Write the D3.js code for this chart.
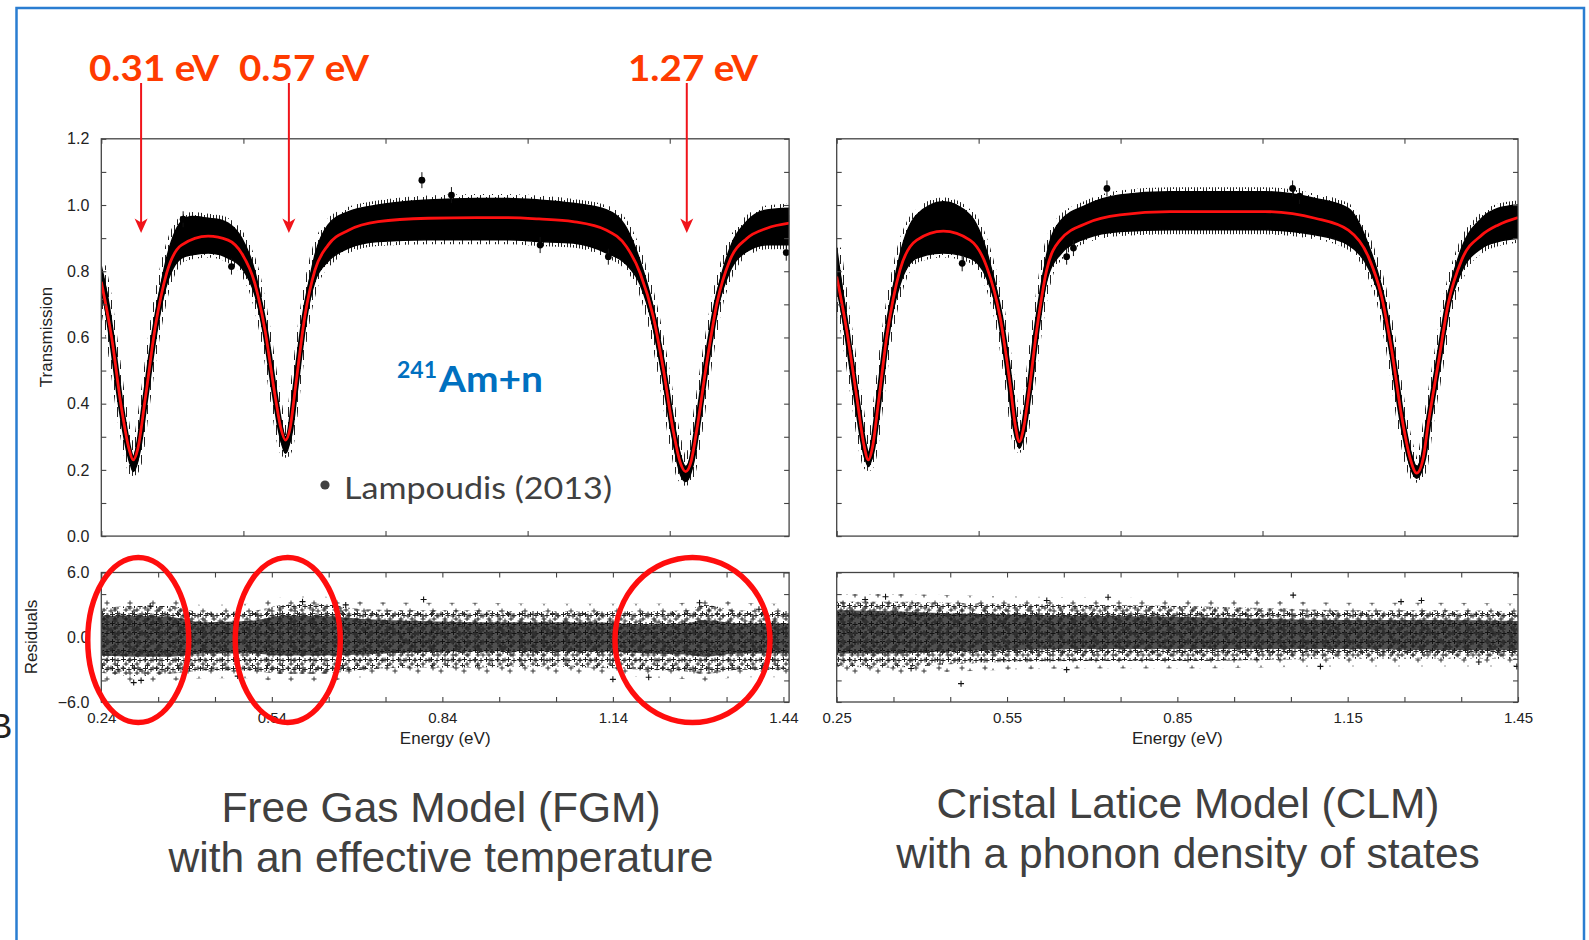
<!DOCTYPE html>
<html lang="en">
<head>
<meta charset="utf-8">
<title>241Am+n transmission: FGM vs CLM</title>
<script src="https://cdn.jsdelivr.net/npm/d3@7/dist/d3.min.js"></script>
<style>
  html, body { margin: 0; padding: 0; background: #fff; }
  svg { display: block; }
</style>
</head>
<body>
<svg id="chart" width="1589" height="940"></svg>
<script>
// ---------------- data ----------------
// Energy ranges and tick values
const fgmDomain = [0.24, 1.45];
const clmDomain = [0.25, 1.45];
const fgmTopTicks = [0.24, 0.49, 0.74, 0.99, 1.24];
const clmTopTicks = [0.25, 0.50, 0.75, 1.00, 1.25];
const fgmEnergyLabels = [0.24, 0.54, 0.84, 1.14, 1.44];
const clmEnergyLabels = [0.25, 0.55, 0.85, 1.15, 1.45];
const transLabels = [0.0, 0.2, 0.4, 0.6, 0.8, 1.0, 1.2];
const residLabels = [-6, 0, 6];

// Resonance energies (eV) marked with arrows
const resonances = [0.31, 0.57, 1.27];
// Residual regions highlighted in the FGM fit (eV)
const highlightE = [0.305, 0.568, 1.28];

// FGM fit (red curve)
const fgmFitE = [0.240,0.258,0.276,0.289,0.296,0.304,0.317,0.335,0.355,0.381,0.428,0.463,0.487,0.510,0.528,0.546,0.556,0.564,0.572,0.581,0.598,0.616,0.639,0.675,0.727,0.815,0.900,0.953,1.010,1.070,1.129,1.164,1.188,1.211,1.229,1.246,1.258,1.268,1.278,1.2875,1.305,1.323,1.346,1.3755,1.411,1.450];
const fgmFitT = [0.768,0.602,0.381,0.262,0.230,0.262,0.411,0.632,0.794,0.879,0.906,0.894,0.854,0.764,0.622,0.421,0.325,0.290,0.325,0.441,0.663,0.804,0.879,0.924,0.950,0.960,0.962,0.962,0.958,0.950,0.924,0.874,0.794,0.663,0.502,0.320,0.225,0.195,0.228,0.320,0.522,0.703,0.834,0.899,0.930,0.945];

// Lampoudis (2013) transmission data: spread of the points (low / high)
const fgmBandE = [0.240,0.250,0.258,0.276,0.289,0.296,0.304,0.317,0.335,0.355,0.370,0.381,0.400,0.428,0.450,0.463,0.487,0.510,0.528,0.546,0.556,0.564,0.572,0.581,0.598,0.616,0.639,0.675,0.727,0.815,0.900,0.953,1.010,1.070,1.129,1.164,1.188,1.211,1.229,1.246,1.258,1.268,1.278,1.2875,1.305,1.323,1.346,1.3755,1.411,1.450];
const fgmBandLo = [0.74,0.66,0.575,0.355,0.235,0.195,0.225,0.39,0.60,0.76,0.82,0.84,0.85,0.855,0.85,0.84,0.81,0.73,0.60,0.40,0.29,0.25,0.29,0.42,0.64,0.77,0.83,0.87,0.89,0.895,0.895,0.895,0.89,0.885,0.855,0.82,0.76,0.63,0.47,0.29,0.19,0.165,0.195,0.29,0.50,0.68,0.80,0.86,0.88,0.88];
const fgmBandHi = [0.815,0.73,0.63,0.40,0.275,0.24,0.285,0.43,0.66,0.84,0.92,0.95,0.965,0.96,0.955,0.945,0.90,0.80,0.645,0.44,0.345,0.30,0.34,0.46,0.69,0.85,0.94,0.98,1.00,1.015,1.02,1.02,1.015,1.005,0.985,0.93,0.83,0.69,0.53,0.35,0.25,0.21,0.25,0.35,0.55,0.73,0.87,0.95,0.985,0.99];
const fgmPointsE = [0.384, 0.469, 0.804, 0.856, 1.012, 1.132, 1.445];
const fgmPointsT = [0.957, 0.814, 1.075, 1.030, 0.879, 0.844, 0.856];

// FGM residuals: outer spread and dense core
const fgmResE = [0.24,0.30,0.36,0.42,0.50,0.56,0.62,0.70,0.80,0.90,1.00,1.10,1.20,1.27,1.30,1.36,1.45];
const fgmResLo = [-3.3,-3.6,-3.4,-3.1,-3.1,-3.4,-3.4,-3.0,-2.8,-2.8,-2.7,-2.8,-3.0,-3.2,-3.4,-3.0,-3.0];
const fgmResHi = [2.7,2.9,2.9,2.3,2.4,3.0,3.1,2.6,2.5,2.5,2.4,2.4,2.4,2.5,3.0,2.5,2.4];
const fgmResCoreLo = [-1.7,-1.8,-1.8,-1.5,-1.5,-1.7,-1.7,-1.6,-1.4,-1.3,-1.3,-1.3,-1.5,-1.6,-1.8,-1.5,-1.5];
const fgmResCoreHi = [2.0,2.0,1.9,1.4,1.5,2.0,2.0,1.7,1.5,1.4,1.4,1.4,1.2,1.3,1.6,1.3,1.3];
const fgmResPtsE = [0.297,0.310,0.326,0.480,0.594,0.670,0.807,1.140,1.203,1.2925,1.397];
const fgmResPtsR = [-4.2,-4.0,2.9,-3.6,3.3,3.0,3.5,-3.9,-3.7,3.2,2.6];

// CLM fit (red curve)
const clmFitE = [0.250,0.2676,0.2852,0.298,0.3057,0.313,0.3233,0.3381,0.3615,0.3909,0.4378,0.4848,0.5141,0.5376,0.5552,0.5645,0.5716,0.579,0.5875,0.6023,0.6199,0.6434,0.6903,0.749,0.837,1.004,1.0925,1.1511,1.1864,1.2099,1.2275,1.2451,1.260,1.2716,1.283,1.292,1.3096,1.3272,1.3508,1.386,1.4153,1.450];
const clmFitT = [0.784,0.622,0.421,0.275,0.230,0.268,0.401,0.602,0.804,0.894,0.921,0.894,0.814,0.663,0.461,0.335,0.285,0.325,0.421,0.622,0.804,0.894,0.945,0.970,0.980,0.980,0.960,0.924,0.844,0.723,0.562,0.361,0.235,0.190,0.235,0.341,0.522,0.703,0.834,0.909,0.940,0.962];
// data spread at the same energies
const clmBandLo = [0.75,0.59,0.39,0.25,0.21,0.245,0.38,0.58,0.76,0.84,0.855,0.84,0.78,0.64,0.44,0.31,0.265,0.30,0.40,0.60,0.77,0.85,0.90,0.92,0.925,0.925,0.91,0.88,0.81,0.70,0.54,0.34,0.21,0.175,0.21,0.32,0.50,0.68,0.80,0.87,0.89,0.90];
const clmBandHi = [0.87,0.65,0.44,0.30,0.25,0.29,0.42,0.63,0.85,0.97,1.01,0.97,0.86,0.69,0.48,0.355,0.31,0.35,0.44,0.65,0.85,0.95,1.00,1.03,1.04,1.04,1.02,0.99,0.88,0.75,0.585,0.38,0.26,0.21,0.26,0.36,0.545,0.73,0.87,0.96,0.99,1.00];
const clmPointsE = [0.471, 0.655, 0.667, 0.726, 1.053, 1.065];
const clmPointsT = [0.824, 0.844, 0.870, 1.050, 1.050, 1.027];

// CLM residuals
const clmResE = [0.25,0.35,0.45,0.55,0.70,0.85,1.00,1.15,1.30,1.45];
const clmResLo = [-2.7,-2.8,-2.5,-2.3,-2.2,-2.2,-2.1,-2.0,-2.0,-2.0];
const clmResHi = [3.3,3.3,3.2,3.1,3.0,2.9,2.7,2.5,2.5,2.4];
const clmResCoreLo = [-1.5,-1.5,-1.3,-1.2,-1.1,-1.1,-1.1,-1.1,-1.2,-1.2];
const clmResCoreHi = [2.5,2.4,2.2,2.1,2.0,1.9,1.7,1.6,1.6,1.5];
const clmResPtsE = [0.300,0.336,0.381,0.469,0.620,0.655,0.728,1.054,1.102,1.244,1.280,1.381,1.448];
const clmResPtsR = [3.5,3.75,-2.9,-4.3,3.4,-3.0,3.7,3.9,-2.7,3.3,3.4,-2.3,-2.7];

// ---------------- drawing ----------------
const svg = d3.select('#chart');
const defs = svg.append('defs');

const TOP = {y0: 138.8, y1: 536.1};
const RES = {y0: 572.5, y1: 702};
const INK = '#444';
const FIT_RED = '#ff1010';
const AXIS_FONT = "'Liberation Sans', Arial, Helvetica, sans-serif";
const fmt1 = d3.format('.1f');
const fmt2 = d3.format('.2f');
const FRINGE = 0.7;   // sparse outer fringe of the residual clouds (residual units)

// error-bar whiskers around the data cloud
const wh = defs.append('pattern').attr('id', 'whisker')
  .attr('patternUnits', 'userSpaceOnUse').attr('width', 9).attr('height', 15);
[[0.5, 2, 12], [3.5, 0, 9], [6.5, 5, 15]].forEach(([x, a, b]) =>
  wh.append('line').attr('x1', x).attr('x2', x).attr('y1', a).attr('y2', b)
    .attr('stroke', '#222').attr('stroke-width', 1));

// '+' markers for the residual clouds
function plusPattern(id, w, h, spots, color) {
  const p = defs.append('pattern').attr('id', id)
    .attr('patternUnits', 'userSpaceOnUse').attr('width', w).attr('height', h);
  spots.forEach(([cx, cy]) => p.append('path')
    .attr('d', `M${cx - 2.5},${cy}H${cx + 2.5}M${cx},${cy - 2.5}V${cy + 2.5}`)
    .attr('stroke', color).attr('stroke-width', 1).attr('fill', 'none'));
}
plusPattern('plusA', 11, 9, [[2.5, 2.5], [8, 3.5], [5, 7]], '#222');
plusPattern('plusB', 15, 13, [[3, 5], [10, 10], [12.5, 2.5]], '#333');
plusPattern('plusC', 23, 19, [[4, 6], [15, 14], [19, 3]], '#333');

function innerTicks(g, x, y, xVals, yVals, box, len) {
  [
    [d3.axisBottom(x).tickValues(xVals), `translate(0,${box.y1})`],
    [d3.axisTop(x).tickValues(xVals), `translate(0,${box.y0})`],
    [d3.axisLeft(y).tickValues(yVals), `translate(${box.x0},0)`],
    [d3.axisRight(y).tickValues(yVals), `translate(${box.x1},0)`]
  ].forEach(([a, t]) => {
    g.append('g').attr('transform', t)
      .call(a.tickSize(-len).tickFormat(''))
      .call(s => s.select('.domain').remove())
      .selectAll('line').attr('stroke', INK).attr('stroke-width', 1.1);
  });
}

function styleLabels(sel, size) {
  sel.call(s => s.select('.domain').remove());
  sel.attr('font-family', null).attr('font-size', null);
  sel.selectAll('text').attr('font-family', AXIS_FONT).attr('font-size', size).attr('fill', '#222');
}

function drawPanel(cfg) {
  const g = svg.append('g');
  const x = d3.scaleLinear().domain(cfg.domain).range([cfg.x0, cfg.x1]);
  const yT = d3.scaleLinear().domain([0, 1.2]).range([TOP.y1, TOP.y0]);
  const yR = d3.scaleLinear().domain([-6, 6]).range([RES.y1, RES.y0]);
  const boxT = {x0: cfg.x0, x1: cfg.x1, y0: TOP.y0, y1: TOP.y1};
  const boxR = {x0: cfg.x0, x1: cfg.x1, y0: RES.y0, y1: RES.y1};

  defs.append('clipPath').attr('id', cfg.id + '-clipT').append('rect')
    .attr('x', cfg.x0).attr('y', TOP.y0).attr('width', cfg.x1 - cfg.x0).attr('height', TOP.y1 - TOP.y0);
  defs.append('clipPath').attr('id', cfg.id + '-clipR').append('rect')
    .attr('x', cfg.x0).attr('y', RES.y0).attr('width', cfg.x1 - cfg.x0).attr('height', RES.y1 - RES.y0);

  // ---- transmission ----
  const gt = g.append('g').attr('clip-path', `url(#${cfg.id}-clipT)`);
  const band = d3.zip(cfg.bandE, cfg.bandLo, cfg.bandHi);
  const area = d3.area().curve(d3.curveMonotoneX)
    .x(d => x(d[0])).y0(d => yT(d[1])).y1(d => yT(d[2]));
  const mid = d3.line().curve(d3.curveMonotoneX)
    .x(d => x(d[0])).y(d => yT((d[1] + d[2]) / 2));
  gt.append('path').datum(band).attr('d', area)
    .attr('fill', 'none').attr('stroke', 'url(#whisker)').attr('stroke-width', 9);
  gt.append('path').datum(band).attr('d', area)
    .attr('fill', '#000').attr('stroke', '#000').attr('stroke-width', 1.5);
  gt.append('path').datum(band).attr('d', mid)
    .attr('fill', 'none').attr('stroke', '#000').attr('stroke-width', 6);

  const pts = d3.zip(cfg.ptsE, cfg.ptsT);
  gt.selectAll('line.eb').data(pts).join('line').attr('class', 'eb')
    .attr('x1', d => x(d[0])).attr('x2', d => x(d[0]))
    .attr('y1', d => yT(d[1]) - 8).attr('y2', d => yT(d[1]) + 8)
    .attr('stroke', '#111').attr('stroke-width', 1);
  gt.selectAll('circle.pt').data(pts).join('circle').attr('class', 'pt')
    .attr('cx', d => x(d[0])).attr('cy', d => yT(d[1])).attr('r', 3.4).attr('fill', '#000');

  gt.append('path').datum(d3.zip(cfg.fitE, cfg.fitT))
    .attr('d', d3.line().curve(d3.curveMonotoneX).x(d => x(d[0])).y(d => yT(d[1])))
    .attr('fill', 'none').attr('stroke', FIT_RED).attr('stroke-width', 2.8);

  g.append('rect').attr('x', cfg.x0).attr('y', TOP.y0)
    .attr('width', cfg.x1 - cfg.x0).attr('height', TOP.y1 - TOP.y0)
    .attr('fill', 'none').attr('stroke', INK).attr('stroke-width', 1.3);
  innerTicks(g, x, yT, cfg.topTicks, d3.range(0, 1.201, 0.1), boxT, 5);

  // ---- residuals ----
  const gr = g.append('g').attr('clip-path', `url(#${cfg.id}-clipR)`);
  const outer = d3.zip(cfg.resE, cfg.resLo, cfg.resHi);
  const core = d3.zip(cfg.resE, cfg.resCoreLo, cfg.resCoreHi);
  const rArea = d3.area().curve(d3.curveMonotoneX)
    .x(d => x(d[0])).y0(d => yR(d[1])).y1(d => yR(d[2]));
  const fringe = d3.area().curve(d3.curveMonotoneX)
    .x(d => x(d[0])).y0(d => yR(d[1] - FRINGE)).y1(d => yR(d[2] + FRINGE));
  gr.append('path').datum(outer).attr('d', fringe).attr('fill', 'url(#plusC)');
  gr.append('path').datum(outer).attr('d', rArea).attr('fill', 'url(#plusA)');
  gr.append('path').datum(outer).attr('d', rArea).attr('fill', 'url(#plusB)');
  gr.append('path').datum(core).attr('d', rArea).attr('fill', '#0d0d0d').attr('fill-opacity', 0.72);
  gr.append('path').datum(core).attr('d', rArea).attr('fill', 'url(#plusB)');
  gr.append('path').datum(core).attr('d', rArea).attr('fill', 'url(#plusC)');
  gr.selectAll('path.rp').data(d3.zip(cfg.resPtsE, cfg.resPtsR)).join('path').attr('class', 'rp')
    .attr('d', d => `M${x(d[0]) - 3},${yR(d[1])}H${x(d[0]) + 3}M${x(d[0])},${yR(d[1]) - 3}V${yR(d[1]) + 3}`)
    .attr('stroke', '#111').attr('stroke-width', 1.1);

  g.append('rect').attr('x', cfg.x0).attr('y', RES.y0)
    .attr('width', cfg.x1 - cfg.x0).attr('height', RES.y1 - RES.y0)
    .attr('fill', 'none').attr('stroke', INK).attr('stroke-width', 1.3);
  const minorE = d3.range(0, 13).map(i => +(cfg.domain[0] + i * 0.1).toFixed(2));
  innerTicks(g, x, yR, minorE, d3.range(-6, 6.01, 2), boxR, 5);

  // energy tick labels
  g.append('g').attr('transform', `translate(0,${RES.y1})`)
    .call(d3.axisBottom(x).tickValues(cfg.energyLabels).tickSize(0).tickPadding(10).tickFormat(fmt2))
    .call(s => styleLabels(s, 15));
  g.append('text').attr('x', x((cfg.domain[0] + cfg.domain[1]) / 2))
    .attr('y', 744).attr('text-anchor', 'middle')
    .attr('font-family', AXIS_FONT).attr('font-size', 17).attr('fill', '#222')
    .text('Energy (eV)');

  if (cfg.yLabels) {
    g.append('g').attr('transform', `translate(${cfg.x0},0)`)
      .call(d3.axisLeft(yT).tickValues(transLabels).tickSize(0).tickPadding(12).tickFormat(fmt1))
      .call(s => styleLabels(s, 16));
    g.append('g').attr('transform', `translate(${cfg.x0},0)`)
      .call(d3.axisLeft(yR).tickValues(residLabels).tickSize(0).tickPadding(12).tickFormat(fmt1))
      .call(s => styleLabels(s, 16));
    g.append('text').attr('transform', `translate(52,337) rotate(-90)`)
      .attr('text-anchor', 'middle').attr('font-family', AXIS_FONT).attr('font-size', 17).attr('fill', '#222')
      .text('Transmission');
    g.append('text').attr('transform', `translate(37,637) rotate(-90)`)
      .attr('text-anchor', 'middle').attr('font-family', AXIS_FONT).attr('font-size', 17).attr('fill', '#222')
      .text('Residuals');
  }
  return x;
}

const xF = drawPanel({
  id: 'fgm', domain: fgmDomain, x0: 101.3, x1: 789.1, yLabels: true,
  topTicks: fgmTopTicks, energyLabels: fgmEnergyLabels,
  fitE: fgmFitE, fitT: fgmFitT, bandE: fgmBandE, bandLo: fgmBandLo, bandHi: fgmBandHi,
  ptsE: fgmPointsE, ptsT: fgmPointsT,
  resE: fgmResE, resLo: fgmResLo, resHi: fgmResHi, resCoreLo: fgmResCoreLo, resCoreHi: fgmResCoreHi,
  resPtsE: fgmResPtsE, resPtsR: fgmResPtsR
});
drawPanel({
  id: 'clm', domain: clmDomain, x0: 836.7, x1: 1518, yLabels: false,
  topTicks: clmTopTicks, energyLabels: clmEnergyLabels,
  fitE: clmFitE, fitT: clmFitT, bandE: clmFitE, bandLo: clmBandLo, bandHi: clmBandHi,
  ptsE: clmPointsE, ptsT: clmPointsT,
  resE: clmResE, resLo: clmResLo, resHi: clmResHi, resCoreLo: clmResCoreLo, resCoreHi: clmResCoreHi,
  resPtsE: clmResPtsE, resPtsR: clmResPtsR
});

// ---------------- annotations ----------------
const ann = svg.append('g');
const ARROW_RED = '#f0141a';
const LABEL_RED = '#ff3b00';
const labelX = [89, 239, 628];

resonances.forEach((e, i) => {
  const ax = xF(e);
  ann.append('line').attr('x1', ax).attr('x2', ax).attr('y1', 83).attr('y2', 224)
    .attr('stroke', ARROW_RED).attr('stroke-width', 2);
  ann.append('path')
    .attr('d', `M${ax},233 L${ax - 6.5},218.5 L${ax},222.5 L${ax + 6.5},218.5 Z`)
    .attr('fill', ARROW_RED);
  ann.append('text').attr('x', labelX[i]).attr('y', 81)
    .attr('font-family', 'Lato, "Open Sans", sans-serif').attr('font-weight', 700)
    .attr('font-size', 36).attr('fill', LABEL_RED)
    .attr('textLength', 130).attr('lengthAdjust', 'spacingAndGlyphs')
    .text(`${e.toFixed(2)} eV`);
});

// isotope label
ann.append('text').attr('x', 397).attr('y', 378)
  .attr('font-family', 'Lato, sans-serif').attr('font-weight', 700).attr('font-size', 23)
  .attr('fill', '#0070c0')
  .attr('textLength', 40).attr('lengthAdjust', 'spacingAndGlyphs').text('241');
ann.append('text').attr('x', 439).attr('y', 392)
  .attr('font-family', 'Lato, sans-serif').attr('font-weight', 700).attr('font-size', 36)
  .attr('fill', '#0070c0')
  .attr('textLength', 104).attr('lengthAdjust', 'spacingAndGlyphs').text('Am+n');

// legend
ann.append('circle').attr('cx', 325).attr('cy', 485).attr('r', 4.6).attr('fill', '#404040');
ann.append('text').attr('x', 344).attr('y', 498.5)
  .attr('font-family', 'Lato, sans-serif').attr('font-size', 30).attr('fill', '#404040')
  .attr('textLength', 268).attr('lengthAdjust', 'spacingAndGlyphs')
  .text('Lampoudis (2013)');

// highlighted residual regions
const ellipseRx = [50.5, 52.5, 77.5];
highlightE.forEach((e, i) => {
  ann.append('ellipse').attr('cx', xF(e)).attr('cy', 640).attr('rx', ellipseRx[i]).attr('ry', 82.5)
    .attr('fill', 'none').attr('stroke', '#ff0d0d').attr('stroke-width', 5.5);
});

// model captions
const captions = [
  {x: 441, y: 822, t: 'Free Gas Model (FGM)'},
  {x: 441, y: 872, t: 'with an effective temperature'},
  {x: 1188, y: 818, t: 'Cristal Latice Model (CLM)'},
  {x: 1188, y: 868, t: 'with a phonon density of states'}
];
captions.forEach(c => ann.append('text').attr('x', c.x).attr('y', c.y)
  .attr('text-anchor', 'middle').attr('font-family', AXIS_FONT)
  .attr('font-size', 42.5).attr('fill', '#404040').text(c.t));

// slide frame
svg.append('path').attr('d', 'M16.5,940 V8 H1584 V940')
  .attr('fill', 'none').attr('stroke', '#2a7dd1').attr('stroke-width', 2.5);
svg.append('text').attr('x', -11).attr('y', 738).attr('font-family', AXIS_FONT)
  .attr('font-size', 35).attr('fill', '#222').text('B');
</script>
</body>
</html>
